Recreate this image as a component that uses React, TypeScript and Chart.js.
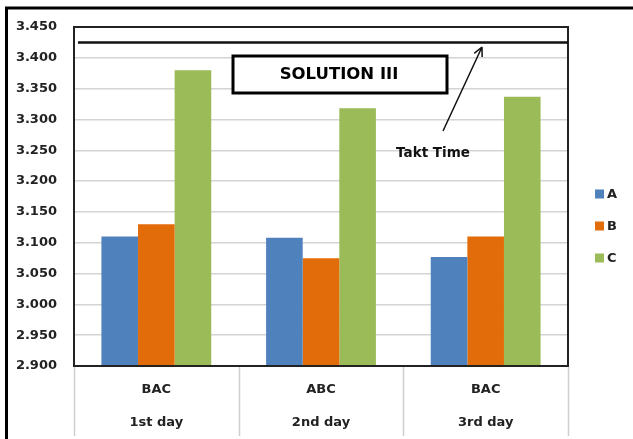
import React, { useEffect, useRef } from "react";
import { Chart, registerables } from "chart.js";

Chart.register(...registerables);

const sequences = ["BAC", "ABC", "BAC"];
const days = ["1st day", "2nd day", "3rd day"];
const seriesNames = ["A", "B", "C"];
const valuesA = [3.11, 3.108, 3.077];
const valuesB = [3.13, 3.075, 3.11];
const valuesC = [3.38, 3.318, 3.337];
const taktTime = 3.425;
const yTicks = [2.9, 2.95, 3.0, 3.05, 3.1, 3.15, 3.2, 3.25, 3.3, 3.35, 3.4, 3.45];

const colors = ["#4F81BD", "#E36C0A", "#9BBB59"];
const FONT = "'DejaVu Sans', sans-serif";

const decorPlugin = {
  id: "decor",
  afterDraw(chart: any) {
    const { ctx, chartArea, scales } = chart;
    const { left, right, top, bottom } = chartArea;
    const x = scales.x;
    const y = scales.y;
    ctx.save();

    // outer frame (top and left edges)
    ctx.strokeStyle = "#000";
    ctx.lineWidth = 3;
    ctx.beginPath();
    ctx.moveTo(633, 8);
    ctx.lineTo(6.5, 8);
    ctx.lineTo(6.5, 439);
    ctx.stroke();

    // plot frame
    ctx.strokeStyle = "#222";
    ctx.lineWidth = 2;
    ctx.strokeRect(left, top, right - left, bottom - top);

    // takt time line
    const ty = y.getPixelForValue(taktTime);
    ctx.strokeStyle = "#111";
    ctx.lineWidth = 2.5;
    ctx.beginPath();
    ctx.moveTo(left + 4, ty);
    ctx.lineTo(right, ty);
    ctx.stroke();

    // title box
    ctx.fillStyle = "#fff";
    ctx.fillRect(233, 56, 214, 37);
    ctx.strokeStyle = "#000";
    ctx.lineWidth = 3;
    ctx.strokeRect(233, 56, 214, 37);
    ctx.fillStyle = "#000";
    ctx.font = `bold 16.5px ${FONT}`;
    ctx.textAlign = "center";
    ctx.textBaseline = "middle";
    ctx.fillText("SOLUTION III", 339, 75);

    // arrow pointing at the takt line
    const ax0 = 443, ay0 = 131, ax1 = 482, ay1 = 47;
    ctx.strokeStyle = "#111";
    ctx.lineWidth = 1.5;
    ctx.beginPath();
    ctx.moveTo(ax0, ay0);
    ctx.lineTo(ax1, ay1);
    const ang = Math.atan2(ay1 - ay0, ax1 - ax0);
    const hl = 10;
    ctx.moveTo(ax1, ay1);
    ctx.lineTo(ax1 - hl * Math.cos(ang - 0.45), ay1 - hl * Math.sin(ang - 0.45));
    ctx.moveTo(ax1, ay1);
    ctx.lineTo(ax1 - hl * Math.cos(ang + 0.45), ay1 - hl * Math.sin(ang + 0.45));
    ctx.stroke();

    ctx.font = `bold 13.5px ${FONT}`;
    ctx.fillStyle = "#111";
    ctx.fillText("Takt Time", 433, 153);

    // category labels and separators below the axis
    ctx.strokeStyle = "#cfcfcf";
    ctx.lineWidth = 1.5;
    const n = sequences.length;
    const step = (right - left) / n;
    for (let i = 0; i <= n; i++) {
      const sx = Math.round(left + step * i) + 0.5;
      ctx.beginPath();
      ctx.moveTo(sx, bottom + 1);
      ctx.lineTo(sx, 436);
      ctx.stroke();
    }
    ctx.fillStyle = "#222";
    ctx.font = `bold 13px ${FONT}`;
    for (let i = 0; i < n; i++) {
      const cx = x.getPixelForValue(i);
      ctx.fillText(sequences[i], cx, 390);
      ctx.fillText(days[i], cx, 423);
    }

    // legend
    ctx.textAlign = "left";
    ctx.font = `bold 13px ${FONT}`;
    seriesNames.forEach((name, i) => {
      const ly = 194 + i * 32;
      ctx.fillStyle = colors[i];
      ctx.fillRect(595, ly - 4.5, 9, 9);
      ctx.fillStyle = "#222";
      ctx.fillText(name, 607, ly + 1);
    });

    ctx.restore();
  },
};

export default function App() {
  const canvasRef = useRef<HTMLCanvasElement>(null);

  useEffect(() => {
    const canvas = canvasRef.current;
    if (!canvas) return;
    const seriesValues = [valuesA, valuesB, valuesC];
    const chart = new Chart(canvas, {
      type: "bar",
      data: {
        labels: sequences,
        datasets: seriesNames.map((name, i) => ({
          label: name,
          data: seriesValues[i],
          backgroundColor: colors[i],
          borderWidth: 0,
          categoryPercentage: 0.667,
          barPercentage: 1,
        })),
      },
      options: {
        responsive: false,
        animation: false,
        layout: { padding: { top: 27, right: 65, bottom: 0, left: 0 } },
        plugins: {
          legend: { display: false },
          tooltip: { enabled: false },
        },
        scales: {
          x: {
            grid: { display: false },
            border: { display: false },
            ticks: { display: false },
            afterFit: (scale: any) => {
              scale.height = 73;
            },
          },
          y: {
            min: 2.9,
            max: 3.45,
            afterBuildTicks: (scale: any) => {
              scale.ticks = yTicks.map((v) => ({ value: v }));
            },
            afterFit: (scale: any) => {
              scale.width = 74;
            },
            grid: { color: "#d4d4d4", lineWidth: 1.5, drawTicks: false },
            border: { display: false },
            ticks: {
              padding: 17,
              color: "#222",
              font: { family: FONT, weight: "bold", size: 13 },
              callback: (v: any) => Number(v).toFixed(3),
            },
          },
        },
      },
      plugins: [decorPlugin],
    });
    return () => chart.destroy();
  }, []);

  return (
    <div style={{ position: "absolute", left: 0, top: 0, width: 633, height: 439, background: "#fff" }}>
      <canvas ref={canvasRef} width={633} height={439} style={{ display: "block" }} />
    </div>
  );
}
